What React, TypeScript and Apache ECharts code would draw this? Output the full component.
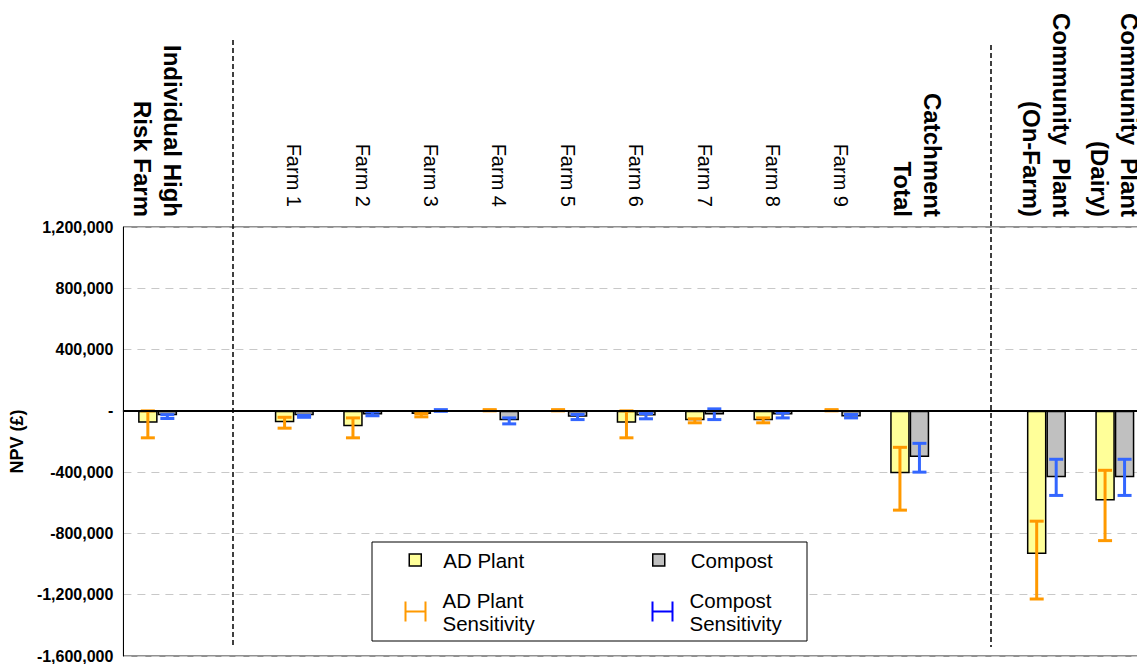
import React, { useEffect, useRef } from "react";
import * as echarts from "echarts";

// Category slots: two blank slots separate the three groups of bars.
const categories = [
  "Individual High\nRisk Farm",
  "",
  "Farm 1",
  "Farm 2",
  "Farm 3",
  "Farm 4",
  "Farm 5",
  "Farm 6",
  "Farm 7",
  "Farm 8",
  "Farm 9",
  "Catchment\nTotal",
  " ",
  "Community  Plant\n(On-Farm)",
  "Community  Plant\n(Dairy)",
];

// NPV (£) of the AD plant option, with its sensitivity range
const adPlant = [-78000, null, -74000, -100000, -21000, 0, 0, -78000, -61000, -61000, 0, -408000, null, -934000, -585000];
const adHigh = [0, null, -42000, -46000, -18000, 8000, 8000, 0, -52000, -46000, 8000, -238000, null, -720000, -388000];
const adLow = [-176000, null, -113000, -176000, -39000, 0, 0, -176000, -78000, -78000, 0, -648000, null, -1228000, -847000];

// NPV (£) of the compost option, with its sensitivity range
const compost = [-29000, null, -29000, -24000, -3000, -61000, -39000, -31000, -24000, -24000, -37000, -301000, null, -434000, -434000];
const compostHigh = [-25000, null, -30000, -8000, 8000, -46000, -24000, -18000, 13000, -13000, -24000, -212000, null, -316000, -316000];
const compostLow = [-50000, null, -42000, -32000, -3000, -85000, -57000, -52000, -57000, -46000, -46000, -400000, null, -552000, -552000];

const yTicks = { min: -1600000, max: 1200000, interval: 400000 };

const FONT = "Liberation Sans, Arial, sans-serif";
const BAR_WIDTH = 19.5;
const AD_FILL = "#FFFF99";
const COMPOST_FILL = "#C0C0C0";
const AD_ERR = "#FF9900";
const COMPOST_ERR = "#3366FF";

// The plot runs on past the visible right edge, so the chart canvas is
// wider than the frame that shows it.
const FRAME_W = 1137;
const FRAME_H = 664;
const CHART_W = 1165;

function rangeData(high: (number | null)[], low: (number | null)[]) {
  const out: number[][] = [];
  high.forEach((h, i) => {
    if (h !== null && low[i] !== null) out.push([i, h, low[i] as number]);
  });
  return out;
}

function errorBarRenderer(offset: number, color: string) {
  return (_params: any, api: any) => {
    const idx = api.value(0);
    const top = api.coord([idx, api.value(1)]);
    const bottom = api.coord([idx, api.value(2)]);
    const x = top[0] + offset;
    const cap = 7;
    const style = { stroke: color, lineWidth: 3 };
    return {
      type: "group",
      children: [
        { type: "line", shape: { x1: x, y1: top[1], x2: x, y2: bottom[1] }, style },
        { type: "line", shape: { x1: x - cap, y1: top[1], x2: x + cap, y2: top[1] }, style },
        { type: "line", shape: { x1: x - cap, y1: bottom[1], x2: x + cap, y2: bottom[1] }, style },
      ],
    };
  };
}

function formatCategory(value: string) {
  if (value.trim() === "") return "";
  if (value.includes("\n")) {
    return value
      .split("\n")
      .map((line) => `{b|${line}}`)
      .join("\n");
  }
  return `{f|${value}}`;
}

// The catchment label sits a little to the right of its bars.
const categoryItems = categories.map((c) =>
  c === "Catchment\nTotal" ? { value: c, textStyle: { padding: [0, 0, 16, 0] } } : c
);

function formatNpv(v: number) {
  if (v === 0) return "-";
  return v.toLocaleString("en-GB");
}

const SQUARE_ICON = "path://M0,0H10V10H0Z";
const RANGE_ICON = "path://M0,0V20M0,10H20M20,0V20";

export default function App() {
  const ref = useRef<HTMLDivElement>(null);

  useEffect(() => {
    if (!ref.current) return;
    const chart = echarts.init(ref.current, null, { renderer: "svg" });

    const legendText = {
      fontFamily: FONT,
      fontSize: 20.5,
      color: "#000",
      lineHeight: 23,
    };

    chart.setOption({
      animation: false,
      backgroundColor: "#fff",
      grid: {
        left: 120.5,
        right: CHART_W - 1149,
        top: 227,
        bottom: 8,
        show: true,
        borderColor: "#222",
        borderWidth: 1,
        backgroundColor: "transparent",
      },
      xAxis: {
        type: "category",
        position: "top",
        data: categoryItems,
        axisLine: { show: true, lineStyle: { color: "#333", width: 1.5 } },
        axisTick: { show: false },
        splitLine: { show: false },
        axisLabel: {
          interval: 0,
          rotate: -90,
          margin: 10,
          color: "#000",
          fontFamily: FONT,
          formatter: formatCategory,
          rich: {
            b: { fontFamily: FONT, fontSize: 24, fontWeight: "bold", lineHeight: 30, color: "#000" },
            f: { fontFamily: FONT, fontSize: 20, lineHeight: 24, color: "#000", padding: [0, 10, 0, 0] },
          },
        },
      },
      yAxis: {
        type: "value",
        min: yTicks.min,
        max: yTicks.max,
        interval: yTicks.interval,
        name: "NPV (£)",
        nameLocation: "middle",
        nameGap: 92,
        nameTextStyle: { fontFamily: FONT, fontSize: 18, fontWeight: "bold", color: "#000" },
        axisLine: { show: true, lineStyle: { color: "#000", width: 1 } },
        axisTick: { show: false },
        axisLabel: {
          margin: 10,
          fontFamily: FONT,
          fontSize: 16,
          fontWeight: "bold",
          color: "#000",
          formatter: formatNpv,
        },
        splitLine: {
          show: true,
          lineStyle: { color: "#C8C8C8", width: 1, type: [8, 6] },
        },
      },
      legend: [
        {
          data: ["AD Plant"],
          left: 408.5,
          top: 548.5,
          padding: 0,
          icon: SQUARE_ICON,
          itemWidth: 12,
          itemHeight: 12,
          itemStyle: { borderColor: "#000", borderWidth: 1.5 },
          textStyle: { ...legendText, padding: [0, 0, 0, 17] },
          selectedMode: false,
          z: 6,
        },
        {
          data: ["Compost"],
          left: 652,
          top: 548.5,
          padding: 0,
          icon: SQUARE_ICON,
          itemWidth: 12,
          itemHeight: 12,
          itemStyle: { borderColor: "#000", borderWidth: 1.5 },
          textStyle: { ...legendText, padding: [0, 0, 0, 21] },
          selectedMode: false,
          z: 6,
        },
        {
          data: ["AD Plant\nSensitivity"],
          left: 403,
          top: 588.5,
          padding: 0,
          icon: RANGE_ICON,
          itemWidth: 20,
          itemHeight: 20,
          itemStyle: { color: "none", borderColor: AD_ERR, borderWidth: 2 },
          textStyle: { ...legendText, padding: [0, 0, 0, 12] },
          selectedMode: false,
          z: 6,
        },
        {
          data: ["Compost\nSensitivity"],
          left: 650,
          top: 588.5,
          padding: 0,
          icon: RANGE_ICON,
          itemWidth: 20,
          itemHeight: 20,
          itemStyle: { color: "none", borderColor: "#0000FF", borderWidth: 2 },
          textStyle: { ...legendText, padding: [0, 0, 0, 12] },
          selectedMode: false,
          z: 6,
        },
      ],
      graphic: [
        {
          type: "rect",
          z: 5,
          shape: { x: 372, y: 542, width: 435, height: 99 },
          style: { fill: "#fff", stroke: "#000", lineWidth: 1 },
        },
        {
          type: "line",
          z: 5,
          shape: { x1: 233, y1: 40, x2: 233, y2: 647 },
          style: { stroke: "#000", lineWidth: 1.5, lineDash: [5, 3] },
        },
        {
          type: "line",
          z: 5,
          shape: { x1: 991, y1: 45, x2: 991, y2: 647 },
          style: { stroke: "#000", lineWidth: 1.5, lineDash: [5, 3] },
        },
      ],
      series: [
        {
          name: "AD Plant",
          type: "bar",
          data: adPlant,
          barWidth: BAR_WIDTH,
          barGap: "0%",
          itemStyle: { color: AD_FILL, borderColor: "#000", borderWidth: 1.5 },
          markLine: {
            silent: true,
            symbol: "none",
            label: { show: false },
            lineStyle: { color: "#000", width: 2, type: "solid" },
            data: [{ yAxis: 0 }],
          },
        },
        {
          name: "Compost",
          type: "bar",
          data: compost,
          barWidth: BAR_WIDTH,
          barGap: "0%",
          itemStyle: { color: COMPOST_FILL, borderColor: "#000", borderWidth: 1.5 },
        },
        {
          name: "AD Plant\nSensitivity",
          type: "custom",
          z: 4,
          color: AD_ERR,
          encode: { x: 0, y: [1, 2] },
          renderItem: errorBarRenderer(-BAR_WIDTH / 2, AD_ERR),
          data: rangeData(adHigh, adLow),
        },
        {
          name: "Compost\nSensitivity",
          type: "custom",
          z: 4,
          color: COMPOST_ERR,
          encode: { x: 0, y: [1, 2] },
          renderItem: errorBarRenderer(BAR_WIDTH / 2, COMPOST_ERR),
          data: rangeData(compostHigh, compostLow),
        },
      ],
    });

    return () => chart.dispose();
  }, []);

  return (
    <div
      style={{
        position: "absolute",
        left: 0,
        top: 0,
        width: FRAME_W,
        height: FRAME_H,
        overflow: "hidden",
      }}
    >
      <div ref={ref} style={{ width: CHART_W, height: FRAME_H }} />
    </div>
  );
}
